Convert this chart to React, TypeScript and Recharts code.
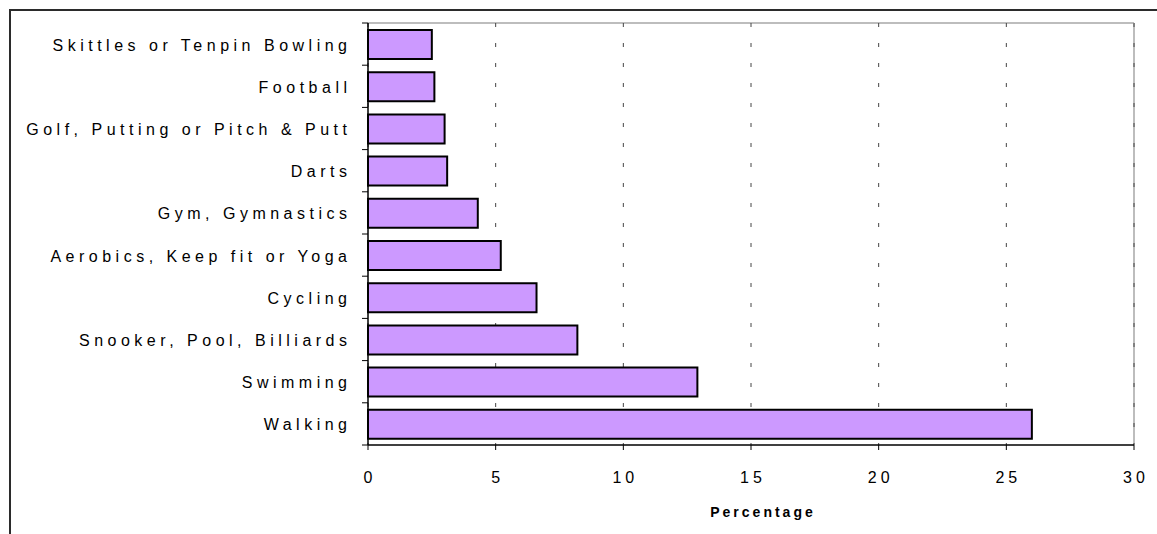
import React from 'react';
import {
  BarChart,
  Bar,
  XAxis,
  YAxis,
  CartesianGrid,
} from 'recharts';

// data (top row first)
const activities = [
  'Skittles or Tenpin Bowling',
  'Football',
  'Golf, Putting or Pitch & Putt',
  'Darts',
  'Gym, Gymnastics',
  'Aerobics, Keep fit or Yoga',
  'Cycling',
  'Snooker, Pool, Billiards',
  'Swimming',
  'Walking',
];
const percentages = [2.5, 2.6, 3.0, 3.1, 4.3, 5.2, 6.6, 8.2, 12.9, 26.0];
const xTicks = [0, 5, 10, 15, 20, 25, 30];

const data = activities.map((name, i) => ({ name, value: percentages[i] }));

// layout
const W = 1157;
const H = 534;
const TOP = 23;
const RIGHT = 23;
const Y_AXIS_W = 368;
const X_AXIS_H = 89;
const BAND = (H - TOP - X_AXIS_H) / activities.length;
const FONT = '"Liberation Sans", Arial, sans-serif';
const LS = 4.5;

function CategoryTick(props: any) {
  const { y, payload, index } = props;
  const x = Y_AXIS_W;
  return (
    <g>
      <line x1={x - 6} x2={x} y1={y - BAND / 2} y2={y - BAND / 2} stroke="#000" strokeWidth={1} />
      {index === activities.length - 1 && (
        <line x1={x - 6} x2={x} y1={y + BAND / 2} y2={y + BAND / 2} stroke="#000" strokeWidth={1} />
      )}
      <text
        x={x - 21 + LS}
        y={y + 1}
        textAnchor="end"
        dominantBaseline="central"
        fontFamily={FONT}
        fontSize={16}
        letterSpacing={LS}
        fill="#000"
      >
        {payload.value}
      </text>
    </g>
  );
}

function ValueTick(props: any) {
  const { x, y, payload } = props;
  return (
    <text
      x={x + 2}
      y={y + 27}
      textAnchor="middle"
      dominantBaseline="central"
      fontFamily={FONT}
      fontSize={16}
      letterSpacing={4}
      fill="#000"
    >
      {payload.value}
    </text>
  );
}

function AxisTitle(props: any) {
  const { viewBox } = props;
  return (
    <text
      x={viewBox.x + viewBox.width / 2 + 12}
      y={viewBox.y + 67}
      textAnchor="middle"
      dominantBaseline="central"
      fontFamily={FONT}
      fontSize={14}
      fontWeight="bold"
      letterSpacing={3}
      fill="#000"
    >
      Percentage
    </text>
  );
}

export default function App() {
  return (
    <div style={{ position: 'absolute', left: 0, top: 0, width: W, height: H, background: '#fff', overflow: 'hidden' }}>
      <div
        style={{
          position: 'absolute',
          left: 9,
          top: 9,
          width: W,
          height: H,
          borderTop: '2px solid #2b2b2b',
          borderLeft: '2px solid #2b2b2b',
        }}
      />
      <div style={{ position: 'absolute', left: 0, top: 0 }}>
        <BarChart
          width={W}
          height={H}
          data={data}
          layout="vertical"
          margin={{ top: TOP, right: RIGHT, left: 0, bottom: 0 }}
        >
          {/* plot border: grey top and right edges */}
          <CartesianGrid
            horizontalPoints={[TOP]}
            verticalPoints={[W - RIGHT]}
            stroke="#bdbdbd"
            strokeWidth={2}
          />
          <CartesianGrid horizontal={false} stroke="#444" strokeDasharray="4 16" />
          <XAxis
            type="number"
            domain={[0, 30]}
            ticks={xTicks}
            interval={0}
            height={X_AXIS_H}
            axisLine={{ stroke: '#000', strokeWidth: 1.5 }}
            tickLine={{ stroke: '#000' }}
            tickSize={5}
            tickMargin={0}
            tick={<ValueTick />}
            label={<AxisTitle />}
          />
          <YAxis
            type="category"
            dataKey="name"
            width={Y_AXIS_W}
            interval={0}
            tickLine={false}
            axisLine={{ stroke: '#000', strokeWidth: 1.5 }}
            tick={<CategoryTick />}
          />
          <Bar
            dataKey="value"
            fill="#CC99FF"
            stroke="#000"
            strokeWidth={2}
            barSize={29}
            isAnimationActive={false}
          />
        </BarChart>
      </div>
    </div>
  );
}
